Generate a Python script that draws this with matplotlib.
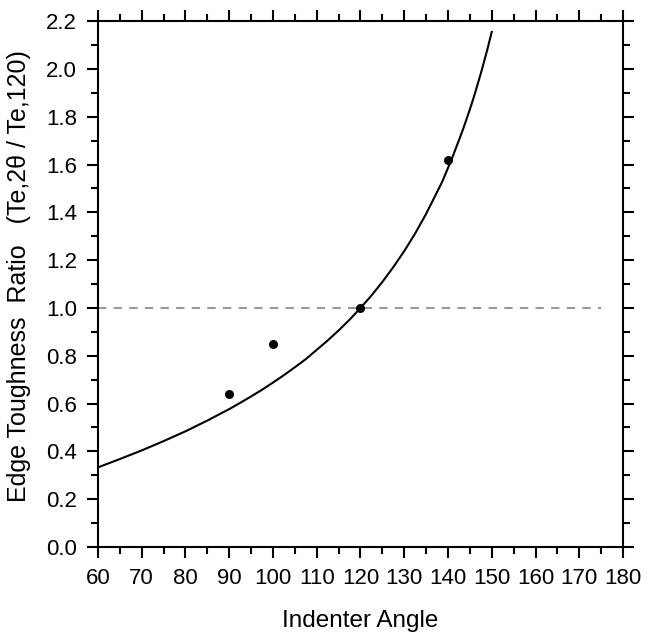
import matplotlib
matplotlib.use("Agg")
import matplotlib.pyplot as plt
from matplotlib.ticker import MultipleLocator, FormatStrFormatter

plt.rcParams["font.family"] = ["Liberation Sans", "DejaVu Sans"]

# model curve
curve_angle = [60, 65, 70, 75, 80, 85, 87.5, 90, 92.5, 95, 97.5, 100, 102.5,
               105, 107.5, 110, 112.5, 115, 117.5, 120, 122.5, 125, 127.5,
               130, 132.5, 135, 137.5, 138.75, 140, 141, 142.5, 143.5, 145,
               146, 147.5, 149, 150]
curve_ratio = [0.333, 0.368, 0.404, 0.443, 0.484, 0.529, 0.553, 0.577, 0.603,
               0.630, 0.658, 0.688, 0.719, 0.752, 0.786, 0.825, 0.864, 0.906,
               0.951, 1.000, 1.052, 1.109, 1.171, 1.238, 1.312, 1.394, 1.485,
               1.531, 1.586, 1.630, 1.702, 1.751, 1.831, 1.888, 1.981, 2.082,
               2.155]

# measured points
meas_angle = [90, 100, 120, 140]
meas_ratio = [0.64, 0.85, 1.00, 1.62]

ref_x = [60, 175]
ref_y = [1.0, 1.0]

fig = plt.figure(figsize=(6.51, 6.42), dpi=100)
ax = fig.add_axes([0.1505, 0.148, 0.8065, 0.819])

ax.plot(ref_x, ref_y, color="#999999", linestyle=(0, (4, 3.5)), linewidth=1.5, zorder=1)
ax.plot(curve_angle, curve_ratio, color="black", linewidth=1.5, zorder=2,
        solid_joinstyle="round")
ax.scatter(meas_angle, meas_ratio, s=30, color="black", zorder=3)

ax.set_xlim(60, 180)
ax.set_ylim(0, 2.2)
ax.xaxis.set_major_locator(MultipleLocator(10))
ax.xaxis.set_minor_locator(MultipleLocator(5))
ax.yaxis.set_major_locator(MultipleLocator(0.2))
ax.yaxis.set_minor_locator(MultipleLocator(0.1))
ax.yaxis.set_major_formatter(FormatStrFormatter("%.1f"))

for s in ax.spines.values():
    s.set_linewidth(1.5)
ax.tick_params(which="both", direction="out", top=True, right=True,
               labeltop=False, labelright=False, width=1.5)
ax.tick_params(which="major", length=8, labelsize=16, pad=7)
ax.tick_params(which="minor", length=5)

ax.set_xlabel("Indenter Angle", fontsize=17.5, labelpad=15)
ax.set_ylabel("Edge Toughness  Ratio   (Te,2\u03b8 / Te,120)", fontsize=18, labelpad=8)
ax.yaxis.set_label_coords(-0.128, 0.515)

fig.savefig("out.png", dpi=100)
